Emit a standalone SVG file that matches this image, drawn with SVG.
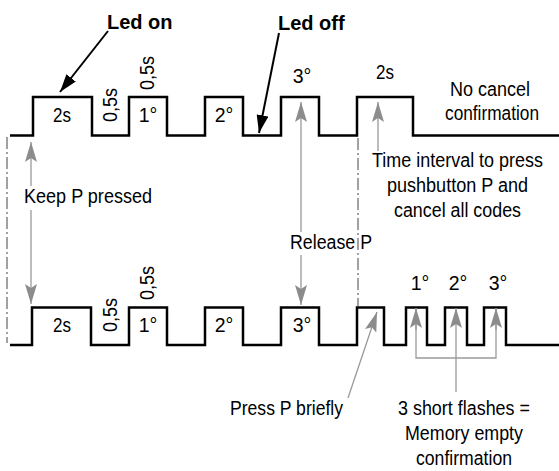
<svg xmlns="http://www.w3.org/2000/svg" width="559" height="471" viewBox="0 0 559 471">
<style>
text{font-family:"Liberation Sans",Arial,sans-serif;font-size:19.5px;fill:#000}
.b{font-weight:bold;font-size:20px}
.m{text-anchor:middle}
.wave{fill:none;stroke:#000;stroke-width:2.5;stroke-linejoin:miter}
.g{fill:none;stroke:#9a9a9a;stroke-width:1.3}
.k{fill:none;stroke:#000;stroke-width:2}
.dd{fill:none;stroke:#444;stroke-width:1;stroke-dasharray:12 3 2 3}
</style>
<defs>
<marker id="ga" viewBox="0 0 20 12" markerWidth="20" markerHeight="12" refX="20" refY="6" orient="auto" markerUnits="userSpaceOnUse">
<path d="M0,0 L20,6 L0,12 L4,6 Z" fill="#8c8c8c"/>
</marker>
<marker id="ka" viewBox="0 0 18 12" markerWidth="18" markerHeight="12" refX="18" refY="6" orient="auto" markerUnits="userSpaceOnUse">
<path d="M0,0 L18,6 L0,12 Z" fill="#000"/>
</marker>
</defs>
<rect width="559" height="471" fill="#fff"/>

<g id="wave-top">
<path class="wave" d="M10,135.5 H33 V97 H92 V135.5 H129 V97 H167 V135.5 H205 V97 H243 V135.5 H281 V97 H319 V135.5 H357 V97 H413 V135.5 H559"/>
<text class="m" x="62" y="122" textLength="18" lengthAdjust="spacingAndGlyphs">2s</text>
<text class="m" x="148" y="122">1°</text>
<text class="m" x="224" y="122">2°</text>
<text class="m" x="302" y="83">3°</text>
<text class="m" x="385" y="79" textLength="18" lengthAdjust="spacingAndGlyphs">2s</text>
<text class="m" transform="translate(117,105) rotate(-90)" textLength="34" lengthAdjust="spacingAndGlyphs">0,5s</text>
<text class="m" transform="translate(154,73) rotate(-90)" textLength="34" lengthAdjust="spacingAndGlyphs">0,5s</text>
</g>

<g id="wave-bottom">
<path class="wave" d="M10,345 H32 V307.5 H91 V345 H129 V307.5 H167 V345 H205 V307.5 H243 V345 H281 V307.5 H319 V345 H357 V307.5 H384 V345 H406 V307.5 H427 V345 H445 V307.5 H467 V345 H484 V307.5 H506 V345 H559"/>
<text class="m" x="62" y="332" textLength="18" lengthAdjust="spacingAndGlyphs">2s</text>
<text class="m" x="148" y="332">1°</text>
<text class="m" x="224" y="332">2°</text>
<text class="m" x="302" y="332">3°</text>
<text class="m" transform="translate(117,315) rotate(-90)" textLength="34" lengthAdjust="spacingAndGlyphs">0,5s</text>
<text class="m" transform="translate(154,283) rotate(-90)" textLength="34" lengthAdjust="spacingAndGlyphs">0,5s</text>
<text class="m" x="420" y="290">1°</text>
<text class="m" x="458" y="290">2°</text>
<text class="m" x="498" y="290">3°</text>
</g>

<g id="label-led-on"><text class="b" x="107" y="29">Led on</text></g>
<g id="label-led-off"><text class="b" x="278" y="30">Led off</text></g>
<g id="label-no-cancel">
<text x="450" y="96" textLength="80" lengthAdjust="spacingAndGlyphs">No cancel</text>
<text x="445" y="120" textLength="94" lengthAdjust="spacingAndGlyphs">confirmation</text>
</g>
<g id="label-keep"><text x="24" y="203" textLength="128" lengthAdjust="spacingAndGlyphs">Keep P pressed</text></g>
<g id="label-release"><text x="290" y="249" textLength="82" lengthAdjust="spacingAndGlyphs">Release P</text></g>
<g id="label-interval">
<text x="372" y="167" textLength="171" lengthAdjust="spacingAndGlyphs">Time interval to press</text>
<text x="387" y="192" textLength="141" lengthAdjust="spacingAndGlyphs">pushbutton P and</text>
<text x="394" y="217" textLength="127" lengthAdjust="spacingAndGlyphs">cancel all codes</text>
</g>
<g id="label-press"><text x="230" y="415" textLength="113" lengthAdjust="spacingAndGlyphs">Press P briefly</text></g>
<g id="label-flashes">
<text x="398" y="415" textLength="132" lengthAdjust="spacingAndGlyphs">3 short flashes =</text>
<text x="405" y="440" textLength="118" lengthAdjust="spacingAndGlyphs">Memory empty</text>
<text x="416" y="465" textLength="96" lengthAdjust="spacingAndGlyphs">confirmation</text>
</g>

<g id="connectors">
<line class="dd" x1="7" y1="137" x2="7" y2="343"/>
<line class="dd" x1="358" y1="138" x2="358" y2="306"/>
<line class="k" x1="108" y1="31" x2="60" y2="92" marker-end="url(#ka)"/>
<line class="k" x1="279" y1="33" x2="259" y2="133" marker-end="url(#ka)"/>
<line class="g" x1="31" y1="186" x2="31" y2="142" marker-end="url(#ga)"/>
<line class="g" x1="31" y1="210" x2="31" y2="304" marker-end="url(#ga)"/>
<line class="g" x1="301" y1="232" x2="301" y2="102" marker-end="url(#ga)"/>
<line class="g" x1="301" y1="255" x2="301" y2="305" marker-end="url(#ga)"/>
<line class="g" x1="378" y1="151" x2="378" y2="102" marker-end="url(#ga)"/>
<line class="g" x1="348" y1="398" x2="377" y2="312" marker-end="url(#ga)"/>
<polyline class="g" points="416,309 416,358 496,358 496,309" />
<line class="g" x1="416" y1="330" x2="416" y2="308" marker-end="url(#ga)"/>
<line class="g" x1="496" y1="330" x2="496" y2="308" marker-end="url(#ga)"/>
<line class="g" x1="456" y1="392" x2="456" y2="308" marker-end="url(#ga)"/>
</g>
</svg>
